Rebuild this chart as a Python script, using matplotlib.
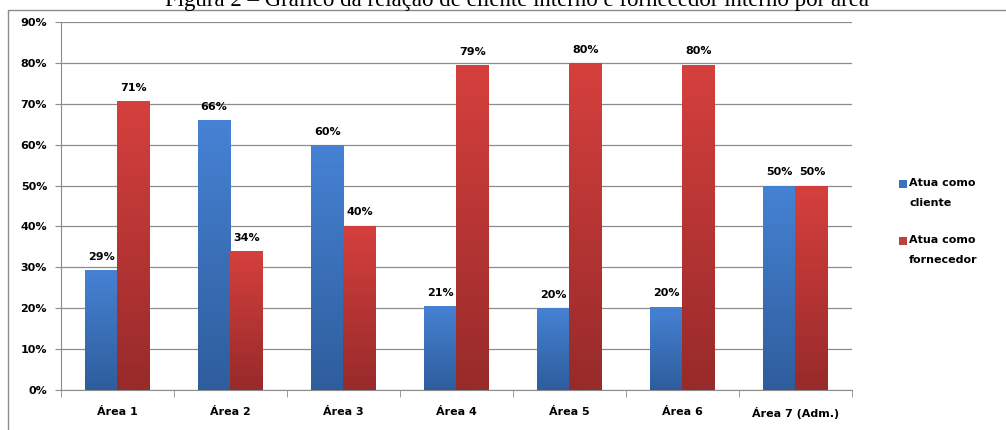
import numpy as np
import matplotlib
matplotlib.use('Agg')
import matplotlib.pyplot as plt
from matplotlib.patches import Rectangle
from matplotlib.colors import LinearSegmentedColormap

categories = ['Área 1', 'Área 2', 'Área 3', 'Área 4', 'Área 5', 'Área 6', 'Área 7 (Adm.)']
cliente = [29.3, 66.0, 59.8, 20.6, 20.1, 20.4, 50.0]
fornecedor = [70.7, 34.0, 40.2, 79.4, 79.9, 79.6, 50.0]
cliente_labels = ['29%', '66%', '60%', '21%', '20%', '20%', '50%']
fornecedor_labels = ['71%', '34%', '40%', '79%', '80%', '80%', '50%']
series_names = ['Atua como\ncliente', 'Atua como\nfornecedor']
series_colors = ['#3a71c0', '#c0403e']
title = 'Figura 2 – Gráfico da relação de cliente interno e fornecedor interno por área'

plt.rcParams['font.family'] = ['DejaVu Sans']

W, H = 1006, 430
fig = plt.figure(figsize=(W / 100, H / 100), dpi=100)
fig.patch.set_facecolor('white')

# caption on top, cut off by the page edge like in the source
fig.text(517 / W, 1 - 6 / H, title, ha='center', va='baseline',
         family='Liberation Serif', fontsize=16.5, color='black')

# chart frame
fig.add_artist(Rectangle((8 / W, -0.1), 1.2, 1 - 9.5 / H + 0.1,
                         transform=fig.transFigure, fill=False,
                         edgecolor='#8c8c8c', linewidth=1.0))

ax = fig.add_axes([61 / W, 1 - 390 / H, (852 - 61) / W, (390 - 22) / H])

x = np.arange(len(categories))
w = 0.29

blue_cmap = LinearSegmentedColormap.from_list('b', ['#2e5d9c', '#4682d4'])
red_cmap = LinearSegmentedColormap.from_list('r', ['#972a2a', '#d5403d'])
grad = np.linspace(0, 1, 256).reshape(-1, 1)

b1 = ax.bar(x - w / 2, cliente, w, color=series_colors[0], zorder=2)
b2 = ax.bar(x + w / 2, fornecedor, w, color=series_colors[1], zorder=2)

# vertical gradient inside each bar
for bars, cmap in ((b1, blue_cmap), (b2, red_cmap)):
    for p in bars:
        x0, h = p.get_x(), p.get_height()
        im = ax.imshow(grad, cmap=cmap, aspect='auto', origin='lower',
                       extent=(x0, x0 + p.get_width(), 0, h), zorder=3)
        im.set_clip_path(p)

for xi, v, lab in zip(x - w / 2, cliente, cliente_labels):
    ax.text(xi, v + 2.0, lab, ha='center', va='bottom', fontsize=8, fontweight='bold')
for xi, v, lab in zip(x + w / 2, fornecedor, fornecedor_labels):
    ax.text(xi, v + 2.0, lab, ha='center', va='bottom', fontsize=8, fontweight='bold')

ax.set_xlim(-0.5, len(categories) - 0.5)
ax.set_ylim(0, 90)
ax.set_yticks(np.arange(0, 91, 10))
ax.set_yticklabels([f'{t}%' for t in range(0, 91, 10)], fontsize=8, fontweight='bold')
ax.set_xticks(x)
ax.set_xticklabels(categories, fontsize=8, fontweight='bold')
ax.set_xticks(np.arange(-0.5, len(categories)), minor=True)
ax.tick_params(axis='x', which='major', length=0, pad=12)
ax.tick_params(axis='x', which='minor', length=5, color='#8c8c8c', direction='out')
ax.tick_params(axis='y', length=4, color='#8c8c8c', pad=6)

ax.grid(axis='y', color='#8c8c8c', linewidth=0.9, zorder=0)
ax.set_axisbelow(True)
for s in ('top', 'right'):
    ax.spines[s].set_visible(False)
for s in ('left', 'bottom'):
    ax.spines[s].set_color('#8c8c8c')

# legend: square next to the first line of each two-line label
for i, (name, col) in enumerate(zip(series_names, series_colors)):
    ytop = 184 + i * 57
    fig.add_artist(Rectangle((899 / W, 1 - (ytop + 4) / H), 8 / W, 8 / H,
                             transform=fig.transFigure, facecolor=col, edgecolor='none'))
    fig.text(909 / W, 1 - (ytop - 6) / H, name, ha='left', va='top',
             fontsize=8, fontweight='bold', linespacing=2.2)

fig.savefig('out.png', dpi=100)
